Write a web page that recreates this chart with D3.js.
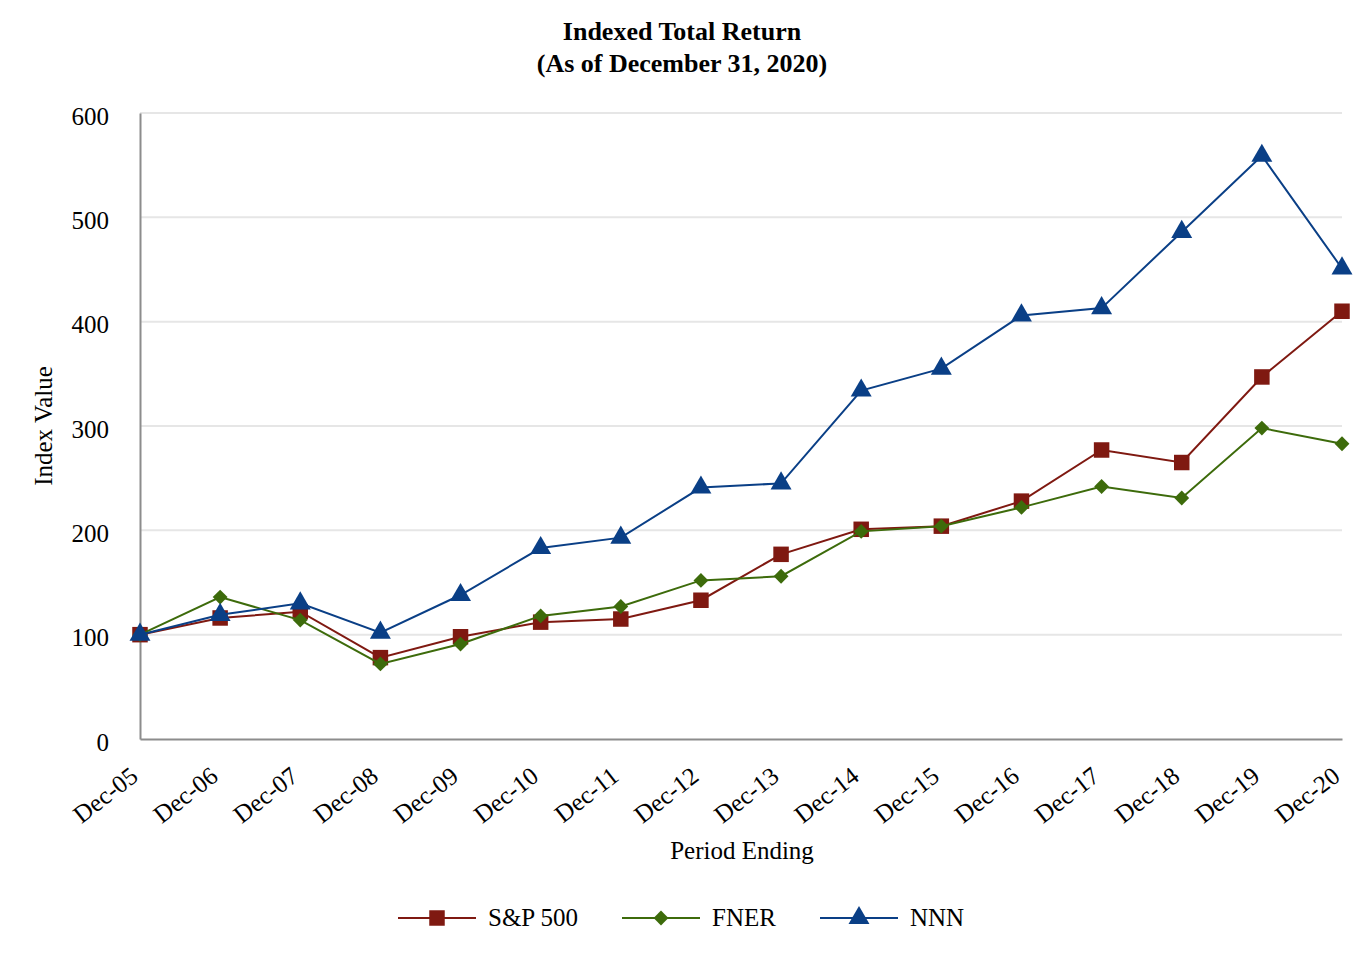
<!DOCTYPE html>
<html>
<head>
<meta charset="utf-8">
<script src="https://cdn.jsdelivr.net/npm/d3@7"></script>
<style>
  body { margin: 0; background: #fff; }
  text { font-family: "Liberation Serif", "Times New Roman", serif; fill: #000; }
</style>
</head>
<body>
<svg></svg>
<script>
const periods = ['Dec-05', 'Dec-06', 'Dec-07', 'Dec-08', 'Dec-09', 'Dec-10', 'Dec-11', 'Dec-12',
  'Dec-13', 'Dec-14', 'Dec-15', 'Dec-16', 'Dec-17', 'Dec-18', 'Dec-19', 'Dec-20']
const sp500 = [100, 116, 122, 78, 98, 112, 115, 133, 177, 201, 204, 228, 277, 265, 347, 410]
const fner = [100, 136, 114, 72, 91, 118, 127, 152, 156, 199, 204, 222, 242, 231, 298, 283]
const nnn = [100, 119, 130, 102, 138, 183, 193, 241, 245, 334, 355, 406, 413, 486, 559, 451]
const yTicks = [0, 100, 200, 300, 400, 500, 600]

const width = 1364
const height = 960
const padding = { top: 113, bottom: 221, left: 140, right: 22 }

const svg = d3.select('svg')
  .attr('width', width)
  .attr('height', height)

const xScale = d3.scalePoint()
  .domain(periods)
  .range([padding.left, width - padding.right])

const yScale = d3.scaleLinear()
  .domain([0, 600])
  .range([height - padding.bottom, padding.top])

// gridlines
svg.append('g')
  .selectAll('line')
  .data(yTicks.slice(1))
  .enter()
  .append('line')
  .attr('x1', padding.left)
  .attr('x2', width - padding.right)
  .attr('y1', d => yScale(d))
  .attr('y2', d => yScale(d))
  .attr('stroke', '#e6e6e6')
  .attr('stroke-width', 2)

const yAxis = d3.axisLeft(yScale)
  .tickValues(yTicks)
  .tickSize(0)
  .tickPadding(31)

svg.append('g')
  .attr('transform', `translate(${padding.left}, 0)`)
  .call(yAxis)
  .call(g => g.select('.domain').attr('stroke', '#8c8c8c').attr('stroke-width', 2))
  .call(g => g.selectAll('text').style('font-size', '25px').attr('dy', '0.44em'))

const xAxis = d3.axisBottom(xScale).tickSize(0)

svg.append('g')
  .attr('transform', `translate(0, ${yScale(0)})`)
  .call(xAxis)
  .call(g => g.select('.domain').attr('stroke', '#8c8c8c').attr('stroke-width', 2))
  .call(g => g.selectAll('text')
    .style('font-size', '25px')
    .attr('text-anchor', 'end')
    .attr('y', 0)
    .attr('dy', 0)
    .attr('transform', 'translate(-1, 40) rotate(-38)'))

// titles
svg.append('text')
  .attr('x', 682).attr('y', 40)
  .attr('text-anchor', 'middle')
  .style('font-size', '26px').style('font-weight', 'bold')
  .text('Indexed Total Return')
svg.append('text')
  .attr('x', 682).attr('y', 72)
  .attr('text-anchor', 'middle')
  .style('font-size', '26px').style('font-weight', 'bold')
  .text('(As of December 31, 2020)')

svg.append('text')
  .attr('transform', `translate(52, ${(yScale(0) + yScale(600)) / 2}) rotate(-90)`)
  .attr('text-anchor', 'middle')
  .style('font-size', '25px')
  .text('Index Value')

svg.append('text')
  .attr('x', 742).attr('y', 859)
  .attr('text-anchor', 'middle')
  .style('font-size', '25px')
  .text('Period Ending')

const diamond = {
  draw(context, size) {
    const r = Math.sqrt(size / 2)
    context.moveTo(0, -r)
    context.lineTo(r, 0)
    context.lineTo(0, r)
    context.lineTo(-r, 0)
    context.closePath()
  }
}

const series = [
  { name: 'S&P 500', values: sp500, color: '#7f1911', symbol: d3.symbolSquare, size: 240, legendX: 398 },
  { name: 'FNER', values: fner, color: '#3d6b0b', symbol: diamond, size: 110, legendX: 622 },
  { name: 'NNN', values: nnn, color: '#0a3f86', symbol: d3.symbolTriangle, size: 190, legendX: 820 }
]

const line = d3.line()
  .x((d, i) => xScale(periods[i]))
  .y(d => yScale(d))

series.forEach(s => {
  svg.append('path')
    .datum(s.values)
    .attr('d', line)
    .attr('fill', 'none')
    .attr('stroke', s.color)
    .attr('stroke-width', 2)

  svg.append('g')
    .selectAll('path')
    .data(s.values)
    .enter()
    .append('path')
    .attr('d', d3.symbol().type(s.symbol).size(s.size))
    .attr('transform', (d, i) => `translate(${xScale(periods[i])}, ${yScale(d)})`)
    .attr('fill', s.color)

  // legend
  const lg = svg.append('g').attr('transform', `translate(${s.legendX}, 918)`)
  lg.append('line')
    .attr('x1', 0).attr('x2', 78)
    .attr('stroke', s.color).attr('stroke-width', 2)
  lg.append('path')
    .attr('d', d3.symbol().type(s.symbol).size(s.size))
    .attr('transform', 'translate(39, 0)')
    .attr('fill', s.color)
  lg.append('text')
    .attr('x', 90).attr('y', 8)
    .style('font-size', '25px')
    .text(s.name)
})
</script>
</body>
</html>
